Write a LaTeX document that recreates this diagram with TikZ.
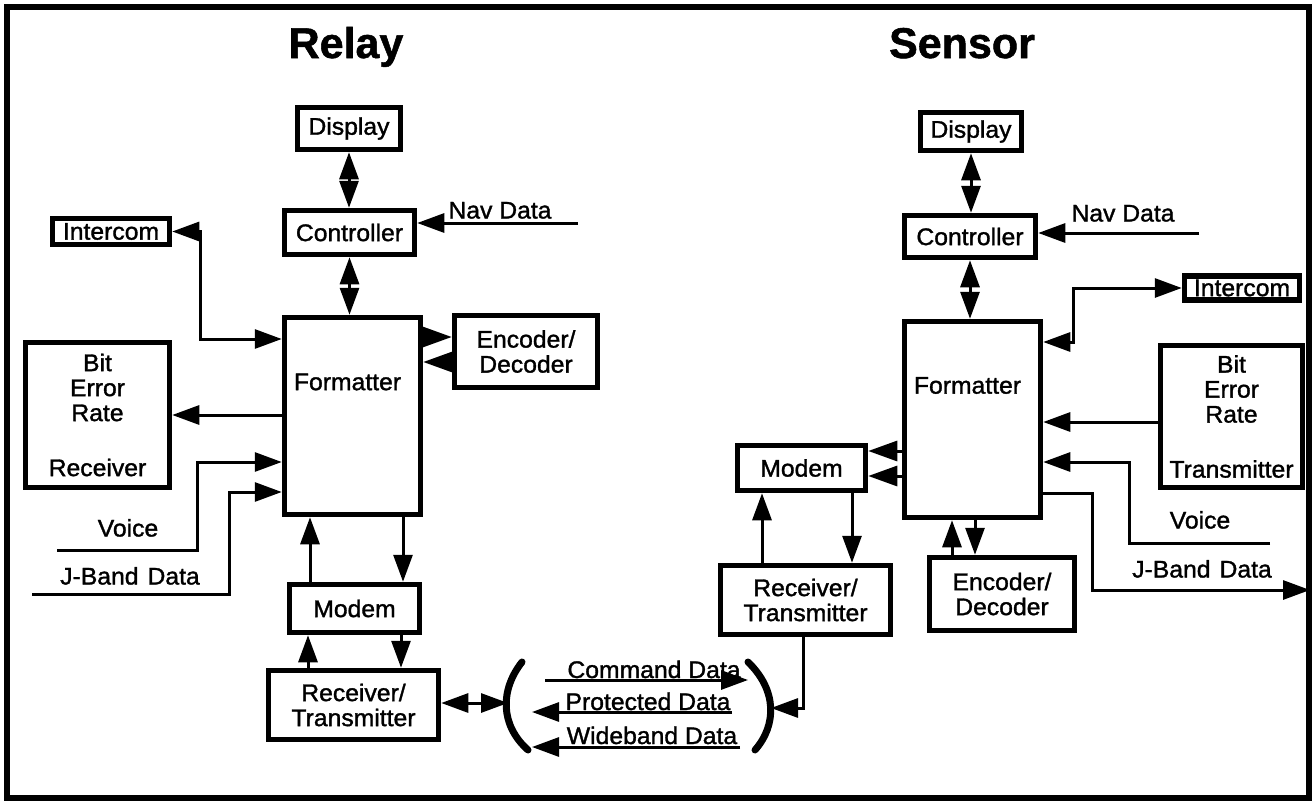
\documentclass[tikz,border=0pt]{standalone}
\usepackage{fontspec}
\setmainfont{Liberation Sans}[FakeStretch=1.03,FakeBold=1.4]
\newfontfamily\ttlfam{Liberation Sans}[FakeBold=1.2]
\usetikzlibrary{arrows.meta}
\newcommand{\lblfont}{\fontsize{24}{25}\selectfont}
\newcommand{\ttlfont}{\ttlfam\fontsize{43}{45}\selectfont\bfseries}
\begin{document}
\begin{tikzpicture}[x=1pt,y=-1pt,
 box/.style={draw, line width=5.5pt, inner sep=0pt, align=center, font=\lblfont},
 txt/.style={inner sep=0pt, font=\lblfont},
 conn/.style={line width=3pt},
 >={Triangle[length=27pt,width=19pt]},
 wedge/.style={line width=3pt, -{Triangle[length=29pt,width=20pt]}},
 brk/.style={line width=7pt, line cap=round},
]
\useasboundingbox (0,0) rectangle (1315,806);
\draw[line width=6pt] (7,7) rectangle (1309,798);

% titles
\node[txt, font=\ttlfont, anchor=base] (ttl1) at (346,58) {Relay};
\node[txt, font=\ttlfont, anchor=base] (ttl2) at (962,58) {Sensor};

% ---------------- Relay ----------------
\node[box, minimum width=103pt, minimum height=42pt] (disp1) at (349,128.5) {Display};
\node[box, minimum width=130pt, minimum height=44pt] (ctrl1) at (349.5,232.5) {Controller};
\node[box, minimum width=117pt, minimum height=26pt] (icom1) at (111,231.5) {Intercom};
\node[box, minimum width=136pt, minimum height=197pt,
      label={[font=\lblfont,xshift=-5pt,yshift=34pt]center:Formatter}] (fmt1) at (352.5,416) {};
\node[box, minimum width=143pt, minimum height=72pt] (enc1) at (526,351.5) {Encoder/\\Decoder};
\node[box, minimum width=144pt, minimum height=145pt] (ber1) at (97.5,415) {Bit\\Error\\Rate\\[30pt]Receiver};
\node[box, minimum width=130pt, minimum height=48pt] (modem1) at (354.5,608.5) {Modem};
\node[box, minimum width=170pt, minimum height=69pt] (rt1) at (353.5,705) {Receiver/\\Transmitter};

\draw[conn,<->] (disp1.south) -- (disp1.south |- ctrl1.north);
\draw[conn,<->] (ctrl1.south) -- (ctrl1.south |- fmt1.north);
\coordinate (nav1) at (578,223);
\draw[conn,->] (nav1) -- (nav1 -| ctrl1.east);
\node[txt,anchor=base] (navt1) at (500,218.5) {Nav Data};
\coordinate (ic1) at (200,339);
\draw[conn,<->] (icom1.east) -| (ic1) -- (ic1 -| fmt1.west);
\draw[conn,->] (fmt1.west |- ber1.east) -- (ber1.east);
\coordinate (v1) at (57,550); \coordinate (v1c) at (197,462);
\draw[conn,->] (v1) -| (v1c) -- (v1c -| fmt1.west);
\node[txt,anchor=base] (voice1) at (128,536.5) {Voice};
\coordinate (j1) at (32,594); \coordinate (j1c) at (229,492);
\draw[conn,->] (j1) -| (j1c) -- (j1c -| fmt1.west);
\node[txt,anchor=base] (jb1) at (130,584.5) {J-Band\hspace{9pt}Data};
\coordinate (e1a) at (452,337); \coordinate (e1b) at (452,362);
\draw[wedge] (e1a -| fmt1.east) -- (e1a -| enc1.west);
\draw[wedge] (e1b -| enc1.west) -- (e1b -| fmt1.east);
\coordinate (m1u) at (310,0); \coordinate (m1d) at (403,0);
\draw[conn,->] (m1u |- modem1.north) -- (m1u |- fmt1.south);
\draw[conn,->] (m1d |- fmt1.south) -- (m1d |- modem1.north);
\coordinate (r1u) at (308,0); \coordinate (r1d) at (401,0);
\draw[conn,->] (r1u |- rt1.north) -- (r1u |- modem1.south);
\draw[conn,->] (r1d |- modem1.south) -- (r1d |- rt1.north);
\coordinate (lb) at (508,703);
\draw[conn,<->] (rt1.east |- lb) -- (lb);

% brackets and link
\draw[brk] (522,662) .. controls (500,690) and (500,725) .. (528,750);
\draw[brk] (748,662) .. controls (777,690) and (777,725) .. (755,750);
\node[txt,anchor=base] (cmd) at (654,678) {Command Data};
\coordinate (cmdS) at (545,680); \coordinate (cmdE) at (748,680);
\draw[conn,->] (cmdS) -- (cmdE);
\node[txt,anchor=base] (prot) at (648,710) {Protected Data};
\coordinate (protS) at (732,712); \coordinate (protE) at (532,712);
\draw[conn,->] (protS) -- (protE);
\node[txt,anchor=base] (wide) at (652,744) {Wideband Data};
\coordinate (wideS) at (740,747); \coordinate (wideE) at (532,747);
\draw[conn,->] (wideS) -- (wideE);

% ---------------- Sensor ----------------
\node[box, minimum width=101pt, minimum height=38pt] (disp2) at (971,131.5) {Display};
\node[box, minimum width=131pt, minimum height=42pt] (ctrl2) at (970,236.5) {Controller};
\node[box, minimum width=115pt, minimum height=24pt] (icom2) at (1242,288) {Intercom};
\node[box, minimum width=136pt, minimum height=196pt,
      label={[font=\lblfont,xshift=-5pt,yshift=34pt]center:Formatter}] (fmt2) at (972.5,419.5) {};
\node[box, minimum width=142pt, minimum height=142pt] (ber2) at (1231.5,416.5) {Bit\\Error\\Rate\\[30pt]Transmitter};
\node[box, minimum width=128pt, minimum height=45pt] (modem2) at (801.5,468) {Modem};
\node[box, minimum width=170pt, minimum height=69pt] (rt2) at (805.5,600) {Receiver/\\Transmitter};
\node[box, minimum width=145pt, minimum height=73pt] (enc2) at (1002,594) {Encoder/\\Decoder};

\draw[conn,<->] (disp2.south) -- (disp2.south |- ctrl2.north);
\draw[conn,<->] (ctrl2.south) -- (ctrl2.south |- fmt2.north);
\coordinate (nav2) at (1199,233);
\draw[conn,->] (nav2) -- (nav2 -| ctrl2.east);
\node[txt,anchor=base] (navt2) at (1123,221.5) {Nav Data};
\coordinate (ic2) at (1073,342);
\draw[conn,<->] (ic2 -| fmt2.east) -- (ic2) |- (icom2.west);
\coordinate (b2) at (0,422);
\draw[conn,->] (b2 -| ber2.west) -- (b2 -| fmt2.east);
\coordinate (v2) at (1270,543); \coordinate (v2c) at (1129,462);
\draw[conn,->] (v2) -| (v2c) -- (v2c -| fmt2.east);
\node[txt,anchor=base] (voice2) at (1200,528.5) {Voice};
\coordinate (j2c) at (1092,493); \coordinate (j2e) at (1310,590);
\draw[conn,->] (j2c -| fmt2.east) -- (j2c) |- (j2e);
\node[txt,anchor=base] (jb2) at (1202,577.5) {J-Band\hspace{9pt}Data};
\coordinate (m2a) at (0,451); \coordinate (m2b) at (0,476);
\draw[wedge] (m2a -| fmt2.west) -- (m2a -| modem2.east);
\draw[wedge] (m2b -| fmt2.west) -- (m2b -| modem2.east);
\coordinate (r2u) at (762,0); \coordinate (r2d) at (852,0);
\draw[conn,->] (r2u |- rt2.north) -- (r2u |- modem2.south);
\draw[conn,->] (r2d |- modem2.south) -- (r2d |- rt2.north);
\coordinate (e2u) at (952,0); \coordinate (e2d) at (975,0);
\draw[conn,->] (e2u |- enc2.north) -- (e2u |- fmt2.south);
\draw[conn,->] (e2d |- fmt2.south) -- (e2d |- enc2.north);
\coordinate (rc) at (803,708); \coordinate (rb) at (771,708);
\draw[conn,->] (rc |- rt2.south) -- (rc) -- (rb);
\end{tikzpicture}
\end{document}
